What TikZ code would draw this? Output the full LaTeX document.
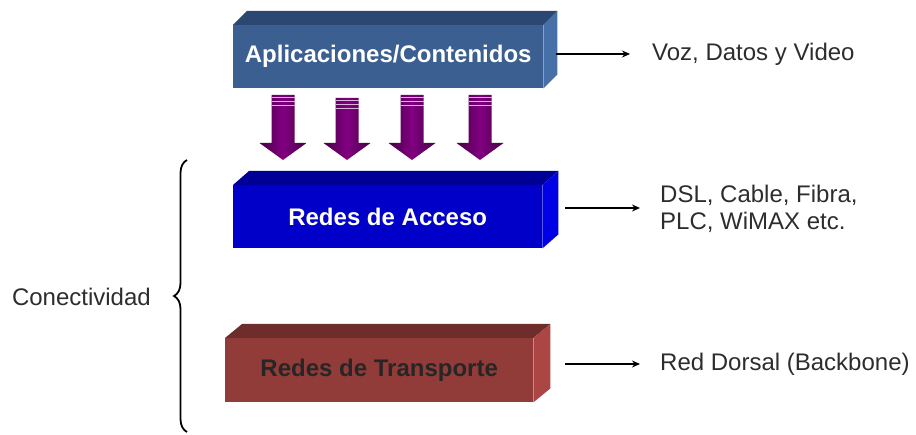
\documentclass[tikz,border=0pt]{standalone}
\usepackage{fontspec}
\setmainfont{Liberation Sans}
\usetikzlibrary{arrows.meta,decorations.pathreplacing}
\definecolor{afront}{RGB}{59,95,145}
\definecolor{atop}{RGB}{44,72,114}
\definecolor{aside}{RGB}{72,112,168}
\definecolor{rfront}{RGB}{0,0,200}
\definecolor{rtop}{RGB}{0,0,150}
\definecolor{rside}{RGB}{0,0,228}
\definecolor{tfront}{RGB}{146,60,58}
\definecolor{ttop}{RGB}{110,44,42}
\definecolor{tside}{RGB}{172,70,68}
\definecolor{pmid}{RGB}{130,0,130}
\definecolor{pdark}{RGB}{70,0,70}
\definecolor{ptxt}{RGB}{45,45,45}
\tikzset{
  layer/.style={anchor=north west, inner sep=0pt, font=\fontsize{24}{28}\selectfont\bfseries},
  conn/.style={draw=black, line width=1.6pt, -{Stealth[length=8pt,width=7pt]}},
  rlabel/.style={anchor=west, inner sep=0pt, text=ptxt, font=\fontsize{24}{27}\selectfont, align=left},
  stripe/.style={draw=white!70!pmid, line width=1.1pt}
}
\newcommand{\layerfaces}[5]{%
  \fill[#2] (#1.north west) -- ++(#4,-#5) -- ([xshift=#4pt,yshift=#5pt]#1.north east) -- (#1.north east) -- cycle;
  \fill[#3] (#1.north east) -- ++(#4,-#5) -- ([xshift=#4pt,yshift=#5pt]#1.south east) -- (#1.south east) -- cycle;
}
\begin{document}
\begin{tikzpicture}[x=1pt,y=-1pt]
\useasboundingbox (0,0) rectangle (916,435);
% layer boxes
\node[layer, fill=afront, text=white, minimum width=310pt, minimum height=63pt] (app) at (233,25) {Aplicaciones/Contenidos};
\layerfaces{app}{atop}{aside}{14}{14}
\node[layer, fill=rfront, text=white, minimum width=309pt, minimum height=63pt] (acc) at (233,185) {Redes de Acceso};
\layerfaces{acc}{rtop}{rside}{16}{14}
\node[layer, fill=tfront, text=black!85, minimum width=308pt, minimum height=64pt] (tra) at (225,338) {Redes de Transporte};
\layerfaces{tra}{ttop}{tside}{17}{14}
% purple arrows
\foreach \cx/\ty in {283/95, 347/98, 412/95, 480/95}{
  \shade[left color=pdark, right color=pdark, middle color=pmid]
    (\cx-11.5,\ty) -- (\cx+11.5,\ty) -- (\cx+11.5,143) -- (\cx+23.5,143)
    -- (\cx,160) -- (\cx-23.5,143) -- (\cx-11.5,143) -- cycle;
  \draw[stripe] (\cx-11.5,\ty+2.5) -- (\cx+11.5,\ty+2.5);
  \draw[stripe] (\cx-11.5,\ty+6.5) -- (\cx+11.5,\ty+6.5);
  \draw[stripe] (\cx-11.5,\ty+10.5) -- (\cx+11.5,\ty+10.5);
}
% right labels
\node[rlabel] (t1) at (652,54) {Voz, Datos y Video};
\node[rlabel] (t2) at (660,209) {DSL, Cable,\ Fibra,\\PLC, WiMAX etc.};
\node[rlabel] (t3) at (660,364) {Red Dorsal (Backbone)};
\draw[conn] ([xshift=13pt]app.east |- t1.west) -- ([xshift=-22pt]t1.west);
\draw[conn] ([xshift=23pt]acc.east |- 0,208) -- ([xshift=-20pt]t2.west |- 0,208);
\draw[conn] ([xshift=32pt]tra.east |- t3.west) -- ([xshift=-20pt]t3.west);
% brace
\coordinate (bb) at (187,432);
\coordinate (bt) at (187,160);
\draw[line width=1.8pt, decorate, decoration={brace, amplitude=13pt}] (bb) -- (bt);
\node[anchor=east, inner sep=0pt, text=ptxt, font=\fontsize{24}{27}\selectfont] (con) at (151,297) {Conectividad};
\end{tikzpicture}
\end{document}
